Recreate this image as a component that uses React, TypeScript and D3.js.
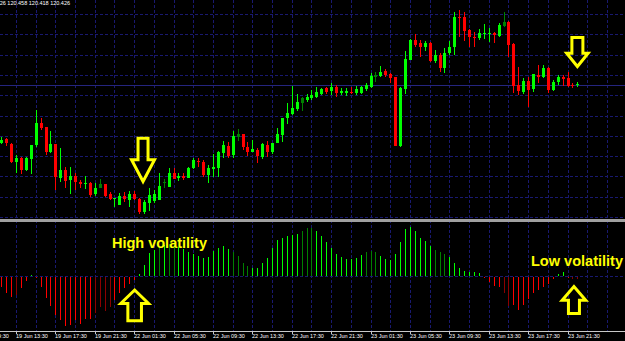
import React from 'react';
import * as d3 from 'd3';

const W = 625;
const H = 341;

// OHLC of each 30-minute candle
const candleOpen = [
  120.165, 120.184, 120.160, 120.071, 120.091, 120.032, 120.086, 120.155, 120.263, 120.243,
  120.120, 120.160, 119.992, 120.032, 119.982, 120.002, 119.972, 119.963, 119.968, 119.913,
  119.943, 119.963, 119.913, 119.889, 119.859, 119.903, 119.884, 119.913, 119.889, 119.825,
  119.869, 119.879, 119.884, 119.968, 119.948, 120.017, 119.992, 120.002, 119.992, 120.041,
  120.076, 120.071, 120.007, 120.036, 120.041, 120.115, 120.150, 120.105, 120.194, 120.209,
  120.145, 120.120, 120.130, 120.096, 120.155, 120.120, 120.165, 120.204, 120.288, 120.307,
  120.332, 120.362, 120.376, 120.386, 120.391, 120.406, 120.436, 120.421, 120.440, 120.411,
  120.411, 120.416, 120.411, 120.411, 120.431, 120.440, 120.490, 120.495, 120.519, 120.504,
  120.490, 120.150, 120.431, 120.573, 120.672, 120.657, 120.637, 120.657, 120.568, 120.598,
  120.534, 120.608, 120.637, 120.785, 120.785, 120.721, 120.687, 120.682, 120.701, 120.701,
  120.706, 120.692, 120.741, 120.761, 120.652, 120.450, 120.416, 120.470, 120.431, 120.500,
  120.490, 120.534, 120.426, 120.465, 120.490, 120.485, 120.450, 120.450,
];
const candleHigh = [
  120.194, 120.189, 120.165, 120.105, 120.096, 120.096, 120.155, 120.327, 120.288, 120.243,
  120.224, 120.160, 120.140, 120.046, 120.046, 120.017, 119.982, 120.002, 119.972, 119.968,
  119.987, 119.963, 119.923, 119.894, 119.918, 119.923, 119.928, 119.928, 119.894, 119.884,
  119.943, 119.933, 120.017, 119.987, 120.041, 120.041, 120.017, 120.017, 120.046, 120.091,
  120.091, 120.081, 120.056, 120.110, 120.125, 120.174, 120.169, 120.224, 120.233, 120.209,
  120.169, 120.179, 120.140, 120.165, 120.174, 120.165, 120.238, 120.288, 120.362, 120.445,
  120.406, 120.391, 120.406, 120.426, 120.440, 120.436, 120.440, 120.460, 120.450, 120.436,
  120.436, 120.440, 120.445, 120.445, 120.460, 120.509, 120.514, 120.544, 120.529, 120.509,
  120.490, 120.440, 120.618, 120.677, 120.701, 120.672, 120.667, 120.662, 120.623, 120.608,
  120.633, 120.667, 120.810, 120.820, 120.810, 120.726, 120.711, 120.726, 120.751, 120.731,
  120.711, 120.756, 120.810, 120.766, 120.657, 120.539, 120.485, 120.490, 120.504, 120.549,
  120.549, 120.539, 120.475, 120.500, 120.500, 120.514, 120.460, 120.465,
];
const candleLow = [
  120.160, 120.150, 120.066, 120.017, 120.012, 120.027, 120.012, 120.145, 120.229, 120.105,
  120.115, 119.933, 119.972, 119.943, 119.913, 119.933, 119.943, 119.938, 119.899, 119.903,
  119.943, 119.899, 119.884, 119.849, 119.859, 119.874, 119.849, 119.884, 119.815, 119.815,
  119.830, 119.869, 119.884, 119.943, 119.948, 119.987, 119.977, 119.982, 119.992, 120.036,
  120.046, 119.997, 119.968, 119.997, 119.997, 120.091, 120.091, 120.091, 120.174, 120.130,
  120.101, 120.120, 120.066, 120.086, 120.096, 120.110, 120.165, 120.169, 120.258, 120.302,
  120.322, 120.322, 120.367, 120.376, 120.386, 120.401, 120.406, 120.401, 120.391, 120.401,
  120.396, 120.406, 120.401, 120.406, 120.421, 120.436, 120.465, 120.490, 120.490, 120.460,
  120.150, 120.145, 120.406, 120.573, 120.637, 120.588, 120.618, 120.564, 120.559, 120.514,
  120.509, 120.598, 120.598, 120.687, 120.667, 120.637, 120.637, 120.672, 120.677, 120.662,
  120.657, 120.687, 120.736, 120.588, 120.411, 120.401, 120.406, 120.342, 120.416, 120.460,
  120.485, 120.411, 120.421, 120.450, 120.445, 120.440, 120.436, 120.440,
];
const candleClose = [
  120.179, 120.165, 120.071, 120.091, 120.032, 120.091, 120.155, 120.263, 120.238, 120.120,
  120.160, 119.997, 120.032, 119.977, 120.002, 119.972, 119.963, 119.968, 119.908, 119.943,
  119.963, 119.903, 119.889, 119.894, 119.903, 119.889, 119.913, 119.889, 119.825, 119.874,
  119.908, 119.913, 119.953, 119.972, 120.017, 119.987, 120.002, 119.992, 120.041, 120.081,
  120.071, 120.007, 120.041, 120.046, 120.120, 120.155, 120.101, 120.199, 120.209, 120.145,
  120.120, 120.135, 120.101, 120.160, 120.120, 120.165, 120.209, 120.288, 120.312, 120.337,
  120.367, 120.386, 120.391, 120.401, 120.416, 120.431, 120.416, 120.440, 120.411, 120.421,
  120.421, 120.411, 120.431, 120.440, 120.450, 120.495, 120.500, 120.514, 120.500, 120.485,
  120.150, 120.436, 120.578, 120.672, 120.647, 120.637, 120.657, 120.568, 120.598, 120.534,
  120.608, 120.637, 120.785, 120.780, 120.716, 120.687, 120.682, 120.706, 120.706, 120.706,
  120.697, 120.746, 120.761, 120.647, 120.445, 120.421, 120.470, 120.426, 120.504, 120.490,
  120.534, 120.426, 120.465, 120.490, 120.480, 120.445, 120.445, 120.455,
];
const darkCandles = [20, 33, 48, 61, 76, 102];
const bidPrice = 120.45;

// volatility histogram (lower pane)
const histValues = [
  -0.10, -0.16, -0.20, -0.18, -0.11, -0.04, 0.01, -0.01, -0.10, -0.21,
  -0.29, -0.38, -0.43, -0.49, -0.48, -0.43, -0.47, -0.42, -0.42, -0.36,
  -0.30, -0.34, -0.30, -0.23, -0.16, -0.11, -0.07, -0.03, 0.02, 0.11,
  0.23, 0.26, 0.29, 0.31, 0.32, 0.31, 0.29, 0.27, 0.24, 0.22,
  0.20, 0.18, 0.19, 0.25, 0.28, 0.30, 0.27, 0.24, 0.20, 0.13,
  0.10, 0.08, 0.08, 0.13, 0.18, 0.28, 0.36, 0.38, 0.40, 0.41,
  0.42, 0.45, 0.48, 0.48, 0.45, 0.40, 0.34, 0.28, 0.22, 0.19,
  0.17, 0.17, 0.18, 0.21, 0.24, 0.25, 0.24, 0.20, 0.17, 0.16,
  0.22, 0.34, 0.47, 0.49, 0.45, 0.38, 0.35, 0.30, 0.26, 0.24,
  0.22, 0.19, 0.13, 0.08, 0.05, 0.04, 0.04, 0.03, -0.01, -0.05,
  -0.09, -0.10, -0.16, -0.29, -0.28, -0.33, -0.28, -0.22, -0.16, -0.13,
  -0.10, -0.07, -0.02, 0.02, 0.04, -0.01, -0.02, -0.02,
];
const darkBars = [3, 19, 20, 21, 22, 32, 34, 35, 47, 48, 49, 50, 61, 62, 63, 74, 75, 76, 88, 89, 90, 102, 103, 116, 117];

// time axis
const timeLabels = [
  '19 Jun 09:30', '19 Jun 13:30', '19 Jun 17:30', '19 Jun 21:30', '22 Jun 01:30',
  '22 Jun 05:30', '22 Jun 09:30', '22 Jun 13:30', '22 Jun 17:30', '22 Jun 21:30',
  '23 Jun 01:30', '23 Jun 05:30', '23 Jun 09:30', '23 Jun 13:30', '23 Jun 17:30', '23 Jun 21:30',
];
const firstLabelIndex = -5;
const labelStep = 8;
const headerText = '26 120.458 120.418 120.426';

const GRID = '#191970';
const BULL = '#00ff00';
const BEAR = '#ff0000';
const DARK_BULL = '#008000';
const DARK_BEAR = '#8b0000';
const YELLOW = '#ffff00';

type Arrow = { at: number; dir: 'down' | 'up'; tail: number; neck: number; tip: number; shaft: number; head: number };
const arrows: Arrow[] = [
  { at: 28.8, dir: 'down', tail: 138.2, neck: 159.8, tip: 181.5, shaft: 5, head: 11.5 },
  { at: 117.0, dir: 'down', tail: 37.5, neck: 53.2, tip: 66.5, shaft: 5.5, head: 10.7 },
  { at: 27.1, dir: 'up', tail: 320.8, neck: 303.5, tip: 290, shaft: 6.8, head: 13.9 },
  { at: 116.3, dir: 'up', tail: 313.5, neck: 300.2, tip: 286.5, shaft: 5.5, head: 11.8 },
];

export default function App() {
  const n = candleOpen.length;
  const x = d3.scaleLinear().domain([0, 117]).range([1.2, 577.4]);
  const col = (i: number) => Math.round(x(i));
  const y = d3.scaleLinear().domain([119.8, 120.8]).range([217, 14]);
  const yh = d3.scaleLinear().domain([-0.55, 0.54]).range([331, 222]);

  const hGrid = d3.range(0, 11).map((i) => Math.round(y(119.8 + i * 0.1)) + 0.5);
  const vGrid = d3.range(3, 130, 4).map((k) => col(k) + 0.5).filter((v) => v < W);
  const zeroY = Math.round(yh(0)) + 0.5;

  const arrowPath = (a: Arrow) => {
    const cx = x(a.at);
    const pts: [number, number][] = [
      [cx - a.shaft, a.tail], [cx + a.shaft, a.tail], [cx + a.shaft, a.neck], [cx + a.head, a.neck],
      [cx, a.tip], [cx - a.head, a.neck], [cx - a.shaft, a.neck],
    ];
    return (d3.line()(pts) || '') + 'Z';
  };

  return (
    <svg width={W} height={H} style={{ position: 'absolute', left: 0, top: 0, display: 'block' }}>
      <rect x={0} y={0} width={W} height={H} fill="#000" />
      {/* grid */}
      <g stroke={GRID} strokeWidth={1} strokeDasharray="3,2" shapeRendering="crispEdges">
        {hGrid.map((gy, i) => (
          <line key={'h' + i} x1={0} x2={W} y1={gy} y2={gy} />
        ))}
        <line x1={0} x2={W} y1={zeroY} y2={zeroY} />
        {vGrid.map((gx, i) => (
          <line key={'v' + i} x1={gx} x2={gx} y1={0} y2={331} />
        ))}
      </g>
      {/* bid line */}
      <line x1={0} x2={W} y1={Math.round(y(bidPrice)) + 0.5} y2={Math.round(y(bidPrice)) + 0.5} stroke="#25257f" strokeWidth={1} shapeRendering="crispEdges" />
      {/* candles */}
      <g shapeRendering="crispEdges">
        {d3.range(n).map((i) => {
          const o = candleOpen[i], c = candleClose[i];
          const up = c >= o;
          const color = darkCandles.includes(i) ? DARK_BULL : up ? BULL : BEAR;
          const cx = col(i);
          const yHi = y(candleHigh[i]);
          const yLo = y(candleLow[i]);
          const bTop = Math.round(y(Math.max(o, c)));
          const bBot = Math.round(y(Math.min(o, c)));
          return (
            <g key={i} fill={color}>
              <rect x={cx} y={Math.round(yHi)} width={1} height={Math.max(1, Math.round(yLo) - Math.round(yHi))} />
              <rect x={cx - 1} y={bTop} width={3} height={Math.max(1, bBot - bTop)} />
            </g>
          );
        })}
      </g>
      {/* separator */}
      <rect x={0} y={219} width={W} height={3} fill="#a0a0a0" />
      {/* histogram */}
      <g shapeRendering="crispEdges">
        {histValues.map((v, i) => {
          const dark = darkBars.includes(i);
          const color = v >= 0 ? (dark ? DARK_BULL : BULL) : dark ? DARK_BEAR : BEAR;
          const y0 = Math.round(yh(0));
          const y1 = Math.round(yh(v));
          const top = Math.min(y0, y1);
          const h = Math.max(1, Math.abs(y1 - y0));
          return <rect key={i} x={col(i)} y={v >= 0 ? top : y0 + 1} width={1} height={h} fill={color} />;
        })}
      </g>
      {/* time axis */}
      <line x1={0} x2={W} y1={331.5} y2={331.5} stroke="#c8c8c8" strokeWidth={1} shapeRendering="crispEdges" />
      <g fill="#ffffff" fontFamily="'Liberation Sans', Arial, sans-serif" fontSize={5.5}>
        {timeLabels.map((t, i) => {
          const k = firstLabelIndex + i * labelStep;
          const tx = col(k);
          return (
            <g key={t}>
              <line x1={tx + 0.5} x2={tx + 0.5} y1={331} y2={334} stroke="#c8c8c8" strokeWidth={1} shapeRendering="crispEdges" />
              <text x={tx} y={338}>{t}</text>
            </g>
          );
        })}
      </g>
      <text x={-0.3} y={5} fill="#ffffff" fontFamily="'Liberation Sans', Arial, sans-serif" fontSize={5.5}>
        {headerText}
      </text>
      {/* annotations */}
      <g fill="none" stroke={YELLOW} strokeWidth={3} strokeLinejoin="miter">
        {arrows.map((a, i) => (
          <path key={i} d={arrowPath(a)} />
        ))}
      </g>
      <g fill={YELLOW} fontFamily="'Liberation Sans', Arial, sans-serif" fontWeight="bold" fontSize={14.5}>
        <text x={112} y={248} textLength={95} lengthAdjust="spacingAndGlyphs">High volatility</text>
        <text x={531} y={266} textLength={92} lengthAdjust="spacingAndGlyphs">Low volatility</text>
      </g>
    </svg>
  );
}
